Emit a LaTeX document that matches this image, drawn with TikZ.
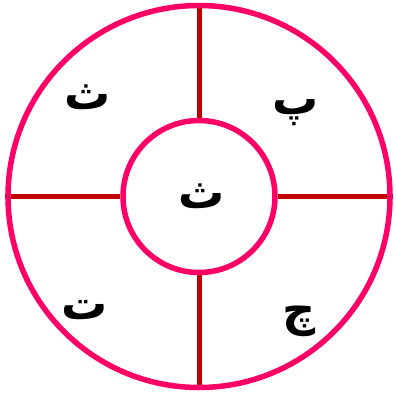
\documentclass[tikz,border=0pt]{standalone}
\usepackage{fontspec}
\usetikzlibrary{backgrounds}
\TeXXeTstate=1
\newfontfamily\arabicfont[Script=Arabic]{DejaVu Sans}
\definecolor{ringpink}{HTML}{FF0066}
\definecolor{spokered}{HTML}{C00000}
\begin{document}
\begin{tikzpicture}[x=1pt,y=-1pt,
  ring/.style={draw=ringpink,line width=5.5pt},
  spoke/.style={draw=spokered,line width=5pt},
  letter/.style={font=\arabicfont\bfseries\fontsize{46}{52}\selectfont,inner sep=0pt}]
\useasboundingbox (0,0) rectangle (396,397);
\coordinate (c) at (199,196.5);
\node[circle,ring,minimum size=382pt,inner sep=0pt] (outer) at (c) {};
\node[circle,ring,minimum size=152pt,inner sep=0pt] (inner) at (c) {};
\begin{scope}[on background layer]
\draw[spoke] (outer.north) -- (inner.north);
\draw[spoke] (outer.south) -- (inner.south);
\draw[spoke] (outer.west) -- (inner.west);
\draw[spoke] (outer.east) -- (inner.east);
\end{scope}
\node[letter] (tl) at (88,97) {\beginR ث\endR};
\node[letter] (tr) at (296,113) {\beginR پ\endR};
\node[letter] (cc) at (202,196) {\beginR ث\endR};
\node[letter] (bl) at (85,310) {\beginR ت\endR};
\node[letter] (br) at (299,321) {\beginR چ\endR};
\end{tikzpicture}
\end{document}
